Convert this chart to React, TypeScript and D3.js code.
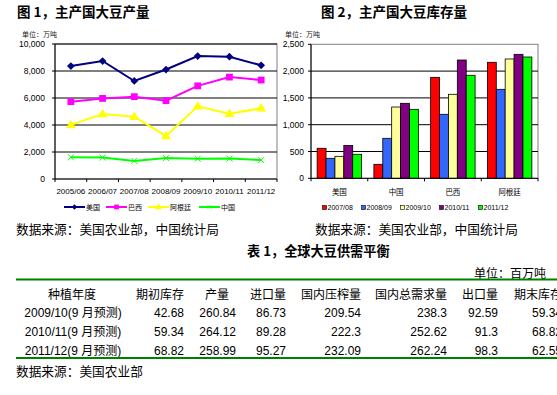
import * as d3 from 'd3'

// 图1 主产国大豆产量 (万吨)
const prodYears = ['2005/06', '2006/07', '2007/08', '2008/09', '2009/10', '2010/11', '2011/12']
const usProd = [8370, 8740, 7260, 8110, 9110, 9060, 8420]
const brProd = [5730, 5970, 6100, 5800, 6900, 7550, 7330]
const arProd = [4010, 4820, 4620, 3190, 5390, 4840, 5240]
const cnProd = [1610, 1590, 1340, 1550, 1500, 1510, 1400]
const prodNames = ['美国', '巴西', '阿根廷', '中国']

// 图2 主产国大豆库存量 (万吨)
const stockCats = ['美国', '中国', '巴西', '阿根廷']
const stockYears = ['2007/08', '2008/09', '2009/10', '2010/11', '2011/12']
const stock0708 = [560, 261, 1884, 2164]
const stock0809 = [373, 746, 1194, 1660]
const stock0910 = [410, 1330, 1567, 2226]
const stock1011 = [612, 1399, 2207, 2313]
const stock1112 = [448, 1287, 1922, 2263]

// 表1 全球大豆供需平衡 (百万吨)
const tableHeaders = ['种植年度', '期初库存', '产量', '进口量', '国内压榨量', '国内总需求量', '出口量', '期末库存']
const tableYears = ['2009/10(9 月预测)', '2010/11(9 月预测)', '2011/12(9 月预测)']
const tableRows = [
  ['42.68', '260.84', '86.73', '209.54', '238.3', '92.59', '59.34'],
  ['59.34', '264.12', '89.28', '222.3', '252.62', '91.3', '68.82'],
  ['68.82', '258.99', '95.27', '232.09', '262.24', '98.3', '62.55'],
]

const FONT = '"Liberation Sans", Arial, "Noto Sans CJK SC", sans-serif'
const CJK = '"Noto Sans CJK SC", "Liberation Sans", sans-serif'

const lineColors = ['#000080', '#ff00ff', '#ffff00', '#00ff00']
const barColors = ['#ff0000', '#3366ff', '#ffff99', '#800080', '#00ff00']

const symTimes: d3.SymbolType = (d3 as any).symbolTimes || (d3 as any).symbolX || d3.symbolCross

function Marker({ i, x, y }: { i: number; x: number; y: number }) {
  const c = lineColors[i]
  if (i === 0) {
    return <path d={d3.symbol(d3.symbolSquare, 30)()!} transform={`translate(${x},${y}) rotate(45)`} fill={c} />
  }
  if (i === 1) return <path d={d3.symbol(d3.symbolSquare, 46)()!} transform={`translate(${x},${y})`} fill={c} />
  if (i === 2) return <path d={d3.symbol(d3.symbolTriangle, 42)()!} transform={`translate(${x},${y + 0.5})`} fill={c} />
  return <path d={d3.symbol(symTimes, 26)()!} transform={`translate(${x},${y})`} fill="none" stroke={c} strokeWidth={0.9} />
}

function ProductionChart() {
  const x = d3.scaleBand<string>().domain(prodYears).range([55, 277])
  const y = d3.scaleLinear().domain([0, 10000]).range([179, 44])
  const series = [usProd, brProd, arProd, cnProd]
  const line = d3.line<number>()
    .x((_, i) => x(prodYears[i])! + x.bandwidth() / 2)
    .y(d => y(d))
  const fmt = d3.format(',')
  const legendX = [64, 106, 148, 199]
  return (
    <g>
      <text x={17} y={11} fontFamily={CJK} fontWeight={700} fontSize={13.5} dominantBaseline="central">图 1，主产国大豆产量</text>
      <text x={22} y={33.5} fontFamily={CJK} fontSize={7} dominantBaseline="central" fill="#222">单位：万吨</text>
      <rect x={55} y={44} width={222} height={135} fill="none" stroke="#808080" strokeWidth={1} />
      {y.ticks(5).map(t => (
        <g key={t}>
          <line x1={55} x2={277} y1={y(t)} y2={y(t)} stroke="#000" strokeWidth={1} />
          <line x1={52} x2={55} y1={y(t)} y2={y(t)} stroke="#000" />
          <text x={45} y={y(t)} textAnchor="end" dominantBaseline="central" fontFamily={FONT} fontSize={8.5}>{fmt(t)}</text>
        </g>
      ))}
      <line x1={55} x2={55} y1={44} y2={179} stroke="#000" />
      {prodYears.map((p, i) => (
        <g key={p}>
          <line x1={x(p)!} x2={x(p)!} y1={179} y2={182} stroke="#000" />
          <text x={x(p)! + x.bandwidth() / 2} y={191} textAnchor="middle" dominantBaseline="central" fontFamily={FONT} fontSize={8}>{p}</text>
          {i === prodYears.length - 1 && <line x1={277} x2={277} y1={179} y2={182} stroke="#000" />}
        </g>
      ))}
      {series.map((s, si) => (
        <g key={si}>
          <path d={line(s)!} fill="none" stroke={lineColors[si]} strokeWidth={2} />
          {s.map((v, i) => (
            <Marker key={i} i={si} x={x(prodYears[i])! + x.bandwidth() / 2} y={y(v)} />
          ))}
        </g>
      ))}
      {prodNames.map((n, i) => (
        <g key={n}>
          <line x1={legendX[i]} x2={legendX[i] + 21} y1={207} y2={207} stroke={lineColors[i]} strokeWidth={2} />
          <g transform={`translate(${legendX[i] + 10.5},207) scale(0.7)`}>
            <Marker i={i} x={0} y={0} />
          </g>
          <text x={legendX[i] + 22} y={207} dominantBaseline="central" fontFamily={CJK} fontSize={7}>{n}</text>
        </g>
      ))}
      <text x={16} y={228} dominantBaseline="central" fontFamily={CJK} fontSize={12.7}>数据来源：美国农业部，中国统计局</text>
    </g>
  )
}

function StockChart() {
  const x0 = d3.scaleBand<string>().domain(stockCats).range([311, 538])
  const x1 = d3.scaleBand<string>().domain(stockYears).range([0, x0.bandwidth()]).paddingOuter(0.69)
  const y = d3.scaleLinear().domain([0, 2500]).range([178.3, 44.3])
  const series = [stock0708, stock0809, stock0910, stock1011, stock1112]
  const fmt = d3.format(',')
  return (
    <g>
      <text x={321} y={11} fontFamily={CJK} fontWeight={700} fontSize={13.5} dominantBaseline="central">图 2，主产国大豆库存量</text>
      <text x={285} y={33.5} fontFamily={CJK} fontSize={7} dominantBaseline="central" fill="#222">单位：万吨</text>
      <rect x={311} y={44.3} width={227} height={134} fill="none" stroke="#808080" strokeWidth={1} />
      {y.ticks(5).map(t => (
        <g key={t}>
          {t > 0 && t < 2500 && <line x1={311} x2={538} y1={y(t)} y2={y(t)} stroke="#000" />}
          <line x1={308} x2={311} y1={y(t)} y2={y(t)} stroke="#000" />
          <text x={304} y={y(t)} textAnchor="end" dominantBaseline="central" fontFamily={FONT} fontSize={8.5}>{fmt(t)}</text>
        </g>
      ))}
      {stockCats.map(c => (
        <g key={c}>
          <line x1={x0(c)!} x2={x0(c)!} y1={178.3} y2={181.3} stroke="#000" />
          <text x={x0(c)! + x0.bandwidth() / 2} y={191} textAnchor="middle" dominantBaseline="central" fontFamily={CJK} fontSize={7.5}>{c}</text>
        </g>
      ))}
      <line x1={538} x2={538} y1={178.3} y2={181.3} stroke="#000" />
      {series.map((s, si) => (
        <g key={si}>
          {s.map((v, ci) => (
            <rect key={ci}
              x={x0(stockCats[ci])! + x1(stockYears[si])!}
              y={y(v)}
              width={x1.bandwidth()}
              height={y(0) - y(v)}
              fill={barColors[si]} stroke="#000" strokeWidth={0.8} />
          ))}
        </g>
      ))}
      <line x1={311} x2={311} y1={44.3} y2={178.3} stroke="#000" />
      <line x1={311} x2={538} y1={178.3} y2={178.3} stroke="#000" />
      {stockYears.map((yr, i) => (
        <g key={yr}>
          <rect x={322.5 + i * 39} y={205.5} width={4} height={4} fill={barColors[i]} stroke="#000" strokeWidth={0.6} />
          <text x={327.5 + i * 39} y={207.5} dominantBaseline="central" fontFamily={FONT} fontSize={7}>{yr}</text>
        </g>
      ))}
      <text x={315} y={228} dominantBaseline="central" fontFamily={CJK} fontSize={12.7}>数据来源：美国农业部，中国统计局</text>
    </g>
  )
}

function SupplyTable() {
  const numRight = [184, 236, 286, 361, 447, 498, 562]
  const headRight = [184, 229, 286, 361, 447, 498, 562]
  const rowY = d3.scaleBand<string>().domain(tableYears).range([303, 360])
  return (
    <g>
      <text x={247} y={250} fontFamily={CJK} fontWeight={700} fontSize={13.2} dominantBaseline="central">表 1，全球大豆供需平衡</text>
      <text x={546} y={272} textAnchor="end" fontFamily={CJK} fontSize={12} dominantBaseline="central">单位：百万吨</text>
      <line x1={16} x2={557} y1={279.5} y2={279.5} stroke="#008000" strokeWidth={2} />
      <text x={72} y={293.5} textAnchor="middle" fontFamily={CJK} fontSize={12} dominantBaseline="central">{tableHeaders[0]}</text>
      {tableHeaders.slice(1).map((h, i) => (
        <text key={h} x={headRight[i]} y={293.5} textAnchor="end" fontFamily={CJK} fontSize={12} dominantBaseline="central">{h}</text>
      ))}
      {tableYears.map((yr, r) => {
        const cy = rowY(yr)! + rowY.bandwidth() / 2
        return (
          <g key={yr}>
            <text x={73} y={cy} textAnchor="middle" fontFamily={FONT} fontSize={12} dominantBaseline="central">{yr}</text>
            {tableRows[r].map((v, c) => (
              <text key={c} x={numRight[c]} y={cy} textAnchor="end" fontFamily={FONT} fontSize={12} dominantBaseline="central">{v}</text>
            ))}
          </g>
        )
      })}
      <line x1={16} x2={557} y1={358} y2={358} stroke="#008000" strokeWidth={2} />
      <text x={16} y={370} fontFamily={CJK} fontSize={12.7} dominantBaseline="central">数据来源：美国农业部</text>
    </g>
  )
}

export default function App() {
  return (
    <svg width={557} height={395} viewBox="0 0 557 395"
      style={{ position: 'absolute', left: 0, top: 0, background: '#fff' }}>
      <rect width={557} height={395} fill="#fff" />
      <ProductionChart />
      <StockChart />
      <SupplyTable />
    </svg>
  )
}
